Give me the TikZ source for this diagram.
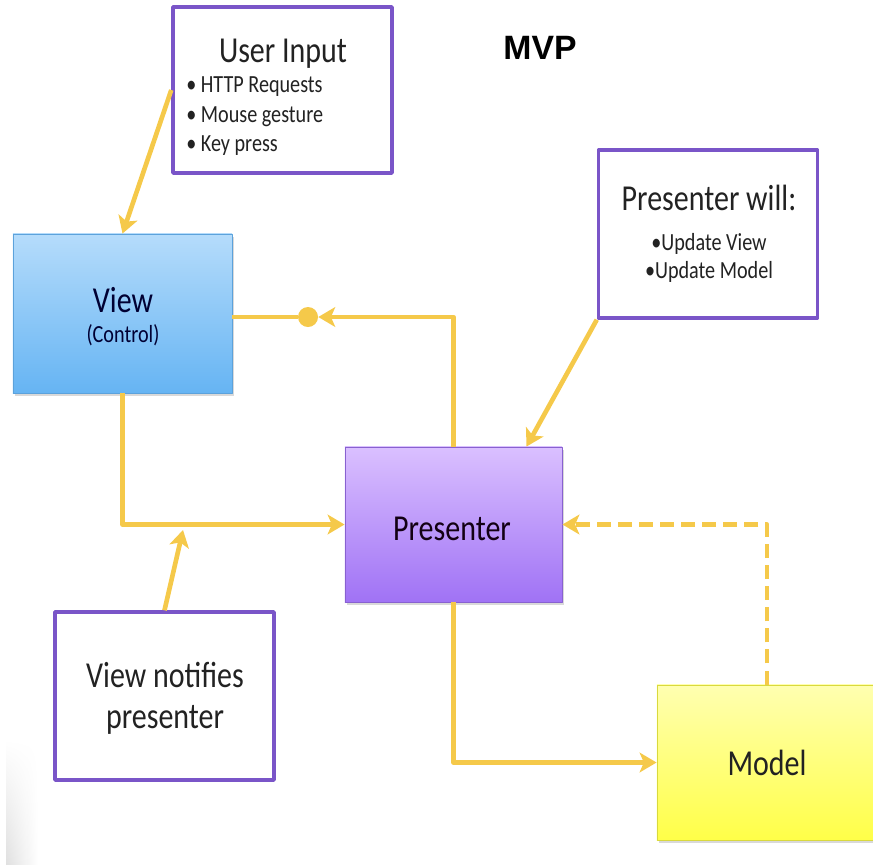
\documentclass[tikz,border=0pt]{standalone}
\usepackage{fontspec}
\setmainfont{Carlito}[FakeStretch=0.82]
\newfontfamily\arialfont{Liberation Sans}
\usetikzlibrary{arrows.meta,calc,shadows,fadings}
\definecolor{framepurple}{HTML}{7A55C8}
\definecolor{linkyellow}{HTML}{F5C94A}
\definecolor{inktext}{HTML}{222222}
\definecolor{viewtop}{HTML}{B5DCFB}
\definecolor{viewbot}{HTML}{66B4F3}
\definecolor{prestop}{HTML}{DAC0FF}
\definecolor{presbot}{HTML}{A072F5}
\definecolor{modeltop}{HTML}{FFFFB0}
\definecolor{modelbot}{HTML}{FFFF48}
\begin{document}
\begin{tikzpicture}[x=0.025cm,y=-0.025cm, line join=round,
    >={Stealth[length=12pt,width=14pt,inset=3pt]},
    note/.style={draw=framepurple,line width=2.4pt,fill=white,inner sep=0pt,
      minimum width=5.475cm,minimum height=4.2cm},
    block/.style={draw=#1,line width=0.6pt,inner sep=0pt,
      drop shadow={shadow xshift=1.5pt,shadow yshift=-2pt,opacity=0.3}},
    link/.style={draw=linkyellow,line width=3.3pt},
    dashlink/.style={dash pattern=on 10pt off 5pt},
    big/.style={text=inktext,inner sep=0pt,anchor=base,font=\fontsize{26}{30}\selectfont},
    small/.style={text=inktext,inner sep=0pt,anchor=base,font=\fontsize{17.5}{21}\selectfont}]
  \useasboundingbox (0,0) rectangle (873,864);
  % faint shade at the lower left border
  \shade[left color=black!12,right color=white,path fading=north] (6,740) rectangle (38,864);

  % boxes
  \node[note,minimum height=4.15cm] (userin) at (282.5,90) {};
  \node[note] (will) at (708,234) {};
  \node[note] (notify) at (164.5,696) {};
  \node[block=viewbot!90!black,top color=viewtop,bottom color=viewbot,
        minimum width=5.475cm,minimum height=3.975cm] (view) at (122.5,313.5) {};
  \node[block=presbot!85!black,top color=prestop,bottom color=presbot,
        minimum width=5.425cm,minimum height=3.875cm] (pres) at (453.5,524.5) {};
  \node[block=modelbot!85!black,top color=modeltop,bottom color=modelbot,
        minimum width=6.5cm,minimum height=3.875cm] (model) at (787,762.5) {};

  % texts
  \node[text=black,inner sep=0pt,anchor=base,font=\arialfont\bfseries\fontsize{24}{28}\selectfont]
    (title) at (540,59) {MVP};
  \node[big] (userinhead) at (283,62) {User Input};
  \node[small,anchor=base west] (req) at (186,92) {• HTTP Requests};
  \node[small,anchor=base west] (mouse) at (186,122) {• Mouse gesture};
  \node[small,anchor=base west] (key) at (186,151) {• Key press};
  \node[big] (willhead) at (709,210) {Presenter will:};
  \node[small] (upview) at (709,250) {•Update View};
  \node[small] (upmodel) at (709,278) {•Update Model};
  \node[big,text=black!80!blue] (viewname) at (123,312) {View};
  \node[small,text=black!80!blue] (control) at (123,342) {(Control)};
  \node[big,text=black!85!violet] (presname) at (452,540) {Presenter};
  \node[big] (notifya) at (165,687) {View notifies};
  \node[big] (notifyb) at (165,728) {presenter};
  \node[big] (modelname) at (767,775) {Model};

  % connectors
  \node[circle,fill=linkyellow,inner sep=0pt,minimum size=0.5cm] (knob) at (308,317) {};
  \draw[link,->] (userin.west) -- (view.north);
  \draw[link,->] (pres.north) |- (knob.east);
  \draw[link] (knob.west) -- (view.east |- knob);
  \draw[link,->] (view.south) |- (pres.west);
  \coordinate (hit) at (183,530);
  \draw[link,->] (notify.north) -- (hit);
  \draw[link,->] (will.south west) -- ($(pres.north)!0.67!(pres.north east)$);
  \draw[link,dashlink,->] (modelname |- model.north) |- (pres.east);
  \draw[link,->] (pres.south) |- (model.west);
\end{tikzpicture}
\end{document}
